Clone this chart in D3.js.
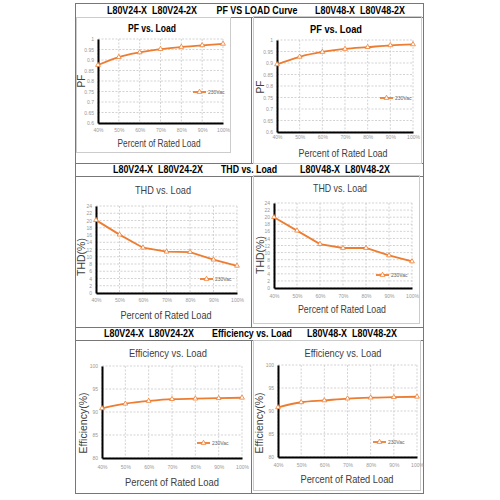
<!DOCTYPE html>
<html>
<head>
<meta charset="utf-8">
<script src="https://cdn.jsdelivr.net/npm/d3@7"></script>
<style>
  body { margin: 0; background: #fff; }
  svg { display: block; font-family: "Liberation Sans", Arial, sans-serif; }
  text { white-space: pre; }
</style>
</head>
<body>
<svg id="chart" width="500" height="500"></svg>
<script>
// data
var loads = ["40%", "50%", "60%", "70%", "80%", "90%", "100%"];
var pf24 = [0.876, 0.914, 0.936, 0.952, 0.962, 0.970, 0.977];
var pf48 = [0.894, 0.927, 0.948, 0.961, 0.969, 0.977, 0.981];
var thd24 = [20.1, 16.1, 12.5, 11.4, 11.3, 9.2, 7.5];
var thd48 = [20.0, 16.2, 12.4, 11.3, 11.3, 9.2, 7.5];
var eff24 = [90.8, 91.8, 92.4, 92.8, 92.9, 93.0, 93.1];
var eff48 = [90.8, 91.9, 92.3, 92.7, 92.9, 93.0, 93.1];
var pfTicks = [0.6, 0.65, 0.7, 0.75, 0.8, 0.85, 0.9, 0.95, 1];
var thdTicks = [0, 2, 4, 6, 8, 10, 12, 14, 16, 18, 20, 22, 24];
var effTicks = [80, 85, 90, 95, 100];
var model24 = "L80V24-X  L80V24-2X";
var model48 = "L80V48-X  L80V48-2X";
var rowTitles = ["PF VS LOAD Curve", "THD vs. Load", "Efficiency vs. Load"];
var seriesName = "230Vac";

var orange = "#ED7D31";
var svg = d3.select("#chart");

// helper: text squeezed to a given width (the source picture is a bit condensed)
function label(g, x, y, str, size, opts) {
  opts = opts || {};
  var t = g.append("text")
    .attr("x", x).attr("y", y)
    .attr("text-anchor", opts.anchor || "middle")
    .attr("dominant-baseline", "central")
    .style("font-size", size + "px")
    .style("font-weight", opts.weight || "normal")
    .style("fill", opts.fill || "#000")
    .text(str);
  if (opts.width) t.attr("textLength", opts.width).attr("lengthAdjust", "spacingAndGlyphs");
  if (opts.rotate) t.attr("transform", "rotate(-90," + x + "," + y + ")");
  return t;
}

// ---- table frame ----
var frame = svg.append("g").style("stroke", "#777").style("fill", "none");
frame.append("rect").attr("x", 75.5).attr("y", 3.5).attr("width", 348).attr("height", 490);
[17, 163, 176, 327, 340].forEach(function (y) {
  frame.append("line").attr("x1", 75).attr("x2", 424).attr("y1", y + 0.5).attr("y2", y + 0.5);
});
[[17, 163], [176, 327], [340, 493]].forEach(function (r) {
  frame.append("line").attr("x1", 251.5).attr("x2", 251.5).attr("y1", r[0]).attr("y2", r[1]);
});

// header rows: [y, left x, middle x, middle width, right x]
var hdr = svg.append("g");
[
  [10.5, 152, 257, 81, 360],
  [169.5, 158, 249, 56, 345],
  [333.5, 149, 252, 80, 352]
].forEach(function (h, i) {
  label(hdr, h[1], h[0], model24, 10, { weight: "bold", width: 90 });
  label(hdr, h[2], h[0], rowTitles[i], 10, { weight: "bold", width: h[3] });
  label(hdr, h[4], h[0], model48, 10, { weight: "bold", width: 90 });
});

// ---- the six charts ----
var charts = [
  { values: pf24, ticks: pfTicks, x0: 98, x1: 223, yTop: 39, yBot: 123, box: [76, 17, 154, 135],
    title: "PF vs. Load", tBold: true, tx: 152, ty: 28, tw: 48, ylab: "PF", lx: 81, ly: 81,
    xtx: 159, xty: 143, xtw: 83, tickY: 130, lgx: 193, lgy: 92, smooth: true },
  { values: pf48, ticks: pfTicks, x0: 277, x1: 413, yTop: 40, yBot: 132, box: [253, 16, 168, 147],
    title: "PF vs. Load", tBold: true, tx: 336, ty: 29, tw: 52, ylab: "PF", lx: 260, ly: 87,
    xtx: 343, xty: 153, xtw: 89, tickY: 137, lgx: 380, lgy: 98, smooth: true },
  { values: thd24, ticks: thdTicks, x0: 96, x1: 237, yTop: 206, yBot: 293, box: null,
    title: "THD vs. Load", tBold: false, tx: 163, ty: 190, tw: 56, ylab: "THD(%)", lx: 81, ly: 257,
    xtx: 166, xty: 315, xtw: 91, tickY: 300, lgx: 200, lgy: 279, smooth: false },
  { values: thd48, ticks: thdTicks, x0: 274, x1: 412, yTop: 203, yBot: 288, box: [253, 175, 166, 148],
    title: "THD vs. Load", tBold: false, tx: 340, ty: 188, tw: 54, ylab: "THD(%)", lx: 260, ly: 255,
    xtx: 342, xty: 309, xtw: 88, tickY: 296, lgx: 376, lgy: 275, smooth: false },
  { values: eff24, ticks: effTicks, x0: 102, x1: 242, yTop: 366, yBot: 458, box: null,
    title: "Efficiency vs. Load", tBold: false, tx: 168, ty: 353, tw: 78, ylab: "Efficiency(%)", lx: 83, ly: 423,
    xtx: 172, xty: 482, xtw: 94, tickY: 467, lgx: 197, lgy: 443, smooth: true },
  { values: eff48, ticks: effTicks, x0: 278, x1: 417, yTop: 365, yBot: 457, box: [253, 340, 167, 150],
    title: "Efficiency vs. Load", tBold: false, tx: 343, ty: 353, tw: 77, ylab: "Efficiency(%)", lx: 259, ly: 423,
    xtx: 347, xty: 479, xtw: 93, tickY: 465, lgx: 373, lgy: 442, smooth: true }
];

charts.forEach(function (c) {
  var g = svg.append("g");
  if (c.box) {
    g.append("rect").attr("x", c.box[0] + 0.5).attr("y", c.box[1] + 0.5)
      .attr("width", c.box[2]).attr("height", c.box[3])
      .style("fill", "none").style("stroke", "#ccc");
  }

  var x = d3.scalePoint().domain(loads).range([c.x0, c.x1]);
  var y = d3.scaleLinear().domain([c.ticks[0], c.ticks[c.ticks.length - 1]]).range([c.yBot, c.yTop]);

  // grid
  var grid = g.append("g").style("stroke", "#c8c8c8").style("stroke-dasharray", "2,1.5").style("stroke-width", 0.8);
  c.ticks.forEach(function (t) {
    grid.append("line").attr("x1", c.x0).attr("x2", c.x1).attr("y1", y(t)).attr("y2", y(t));
  });
  loads.forEach(function (l) {
    grid.append("line").attr("x1", x(l)).attr("x2", x(l)).attr("y1", c.yTop).attr("y2", c.yBot);
  });

  // axes
  var yAxis = g.append("g").attr("transform", "translate(" + c.x0 + ",0)")
    .call(d3.axisLeft(y).tickValues(c.ticks).tickSize(0).tickPadding(4)
      .tickFormat(function (d) { return String(+d.toFixed(2)); }));
  var xAxis = g.append("g").attr("transform", "translate(0," + c.yBot + ")")
    .call(d3.axisBottom(x).tickSize(0).tickPadding(c.tickY - c.yBot - 2));
  [yAxis, xAxis].forEach(function (a) {
    a.select(".domain").style("stroke", "#000").style("stroke-width", 2);
    a.selectAll("text").style("font-size", "5px").style("fill", "#999").style("font-family", "Liberation Sans, Arial, sans-serif");
  });

  // series line
  var line = d3.line()
    .x(function (d, i) { return x(loads[i]); })
    .y(function (d) { return y(d); })
    .curve(c.smooth ? d3.curveMonotoneX : d3.curveLinear);
  g.append("path").datum(c.values).attr("d", line)
    .style("fill", "none").style("stroke", orange).style("stroke-width", 1.8);

  var tri = d3.symbol().type(d3.symbolTriangle).size(10);
  g.selectAll(".mk").data(c.values).enter().append("path")
    .attr("transform", function (d, i) { return "translate(" + x(loads[i]) + "," + y(d) + ")"; })
    .attr("d", tri)
    .style("fill", "#fff").style("stroke", orange).style("stroke-width", 0.8);

  // legend
  g.append("line").attr("x1", c.lgx).attr("x2", c.lgx + 13).attr("y1", c.lgy).attr("y2", c.lgy)
    .style("stroke", orange).style("stroke-width", 1.8);
  g.append("path").attr("transform", "translate(" + (c.lgx + 6.5) + "," + c.lgy + ")").attr("d", tri)
    .style("fill", "#fff").style("stroke", orange).style("stroke-width", 0.8);
  label(g, c.lgx + 15, c.lgy, seriesName, 5, { anchor: "start", fill: "#666" });

  // titles
  label(g, c.tx, c.ty, c.title, c.tBold ? 11 : 10.5,
    { weight: c.tBold ? "bold" : "normal", fill: c.tBold ? "#000" : "#404040", width: c.tw });
  label(g, c.xtx, c.xty, "Percent of Rated Load", 10.5, { fill: "#404040", width: c.xtw });
  label(g, c.lx, c.ly, c.ylab, c.ylab === "PF" ? 10 : 10.5, { fill: "#404040", rotate: true });
});
</script>
</body>
</html>
